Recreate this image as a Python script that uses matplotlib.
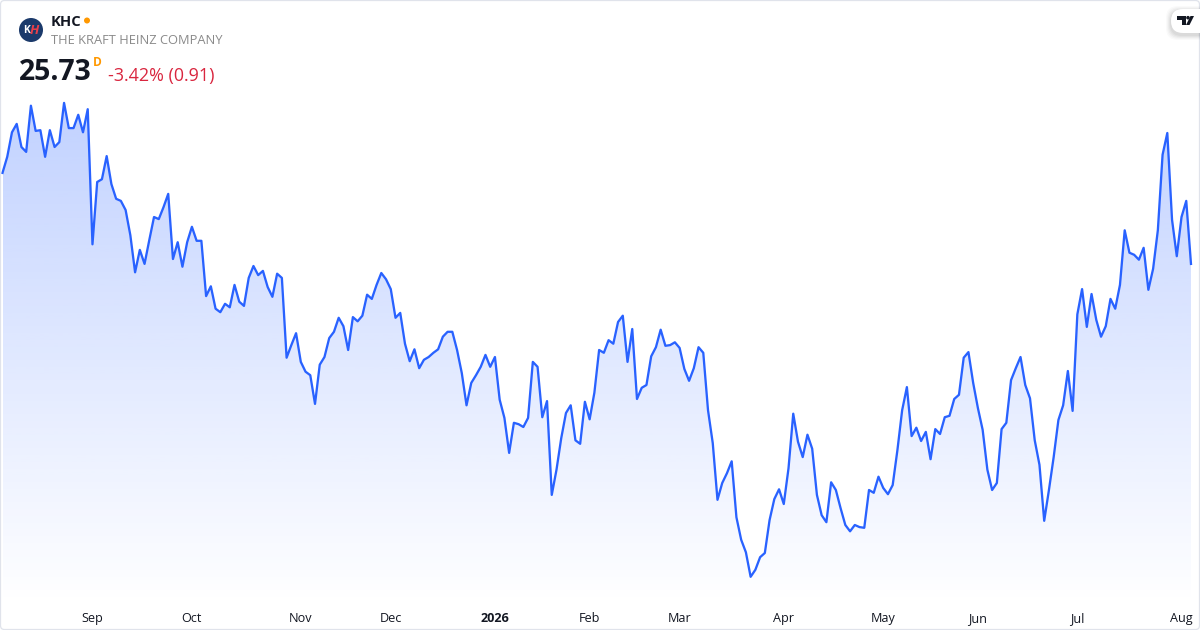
import numpy as np
import matplotlib
matplotlib.use("Agg")
import matplotlib.pyplot as plt
from matplotlib.patches import Circle, FancyBboxPatch, Polygon

prices = [
    27.03, 27.26, 27.61, 27.73, 27.40, 27.33, 27.99, 27.63, 27.64, 27.26,
    27.64, 27.40, 27.47, 28.03, 27.67, 27.67, 27.86, 27.61, 27.94, 26.01,
    26.90, 26.94, 27.27, 26.87, 26.66, 26.63, 26.50, 26.14, 25.61, 25.93,
    25.73, 26.07, 26.40, 26.37, 26.54, 26.73, 25.80, 26.04, 25.69, 26.04,
    26.26, 26.06, 26.06, 25.27, 25.41, 25.09, 25.04, 25.16, 25.11, 25.43,
    25.19, 25.13, 25.53, 25.70, 25.57, 25.63, 25.40, 25.26, 25.59, 25.53,
    24.39, 24.57, 24.74, 24.33, 24.19, 24.14, 23.73, 24.29, 24.40, 24.67,
    24.76, 24.96, 24.84, 24.50, 24.97, 24.91, 24.99, 25.29, 25.23, 25.43,
    25.60, 25.51, 25.37, 24.96, 25.03, 24.59, 24.34, 24.51, 24.24, 24.36,
    24.40, 24.46, 24.51, 24.69, 24.76, 24.76, 24.50, 24.17, 23.71, 24.03,
    24.14, 24.26, 24.43, 24.26, 24.40, 23.79, 23.53, 23.03, 23.46, 23.44,
    23.40, 23.53, 24.33, 24.26, 23.54, 23.77, 22.43, 22.79, 23.24, 23.60,
    23.71, 23.21, 23.16, 23.76, 23.51, 23.89, 24.50, 24.46, 24.64, 24.59,
    24.90, 24.99, 24.33, 24.80, 23.80, 23.96, 24.00, 24.41, 24.54, 24.79,
    24.56, 24.57, 24.61, 24.53, 24.23, 24.06, 24.24, 24.54, 24.46, 23.64,
    23.17, 22.36, 22.60, 22.74, 22.91, 22.11, 21.79, 21.61, 21.26, 21.36,
    21.54, 21.60, 22.07, 22.37, 22.51, 22.30, 22.81, 23.59, 23.19, 22.97,
    23.29, 23.09, 22.43, 22.14, 22.04, 22.61, 22.50, 22.24, 22.00, 21.91,
    22.00, 21.97, 21.96, 22.50, 22.46, 22.69, 22.53, 22.44, 22.57, 23.07,
    23.64, 23.97, 23.27, 23.39, 23.20, 23.33, 22.94, 23.37, 23.30, 23.54,
    23.56, 23.80, 23.86, 24.39, 24.47, 24.03, 23.67, 23.36, 22.79, 22.50,
    22.60, 23.37, 23.46, 24.07, 24.24, 24.40, 24.00, 23.81, 23.21, 22.86,
    22.06, 22.50, 22.97, 23.50, 23.71, 24.20, 23.63, 25.01, 25.37, 24.83,
    25.30, 24.93, 24.69, 24.84, 25.23, 25.09, 25.43, 26.21, 25.89, 25.86,
    25.79, 25.96, 25.36, 25.66, 26.21, 27.29, 27.60, 26.36, 25.84, 26.40,
    26.63, 25.73,
]
tick_positions = [19, 40, 63, 82, 104, 124, 143, 165, 186, 206, 227, 249]
tick_labels = ["Sep", "Oct", "Nov", "Dec", "2026", "Feb", "Mar", "Apr", "May", "Jun", "Jul", "Aug"]

plt.rcParams["font.family"] = ["Open Sans", "DejaVu Sans"]
W, H = 1200, 630
fig = plt.figure(figsize=(W / 100, H / 100), dpi=100, facecolor="white")

BLUE = "#2962FF"
AX_BOTTOM_PX = 605
ax = fig.add_axes([0, (H - AX_BOTTOM_PX) / H, 1, AX_BOTTOM_PX / H])
xs = np.arange(len(prices))
x0, dx = 2.5, 4.735
ymax, ppu = 29.5, 70.0
ymin = ymax - AX_BOTTOM_PX / ppu
for s in ax.spines.values():
    s.set_visible(False)
ax.set_yticks([])
ax.set_xticks(tick_positions)
ax.set_xticklabels(tick_labels, fontsize=9.1, color="#131722")
ax.tick_params(axis="x", length=0, pad=5.0)
for lab in ax.get_xticklabels():
    if lab.get_text() == "2026":
        lab.set_fontweight("bold")

# gradient area
top_p = max(prices)
rgba = np.zeros((256, 1, 4))
rgba[..., 0] = 41 / 255
rgba[..., 1] = 98 / 255
rgba[..., 2] = 1.0
rgba[..., 3] = np.linspace(0.29, 0.0, 256).reshape(-1, 1)
im = ax.imshow(rgba, extent=(xs[0], xs[-1], ymin, top_p), origin="upper",
               aspect="auto", zorder=1, interpolation="bilinear")
verts = [(xs[0], ymin)] + list(zip(xs, prices)) + [(xs[-1], ymin), (xs[0], ymin)]
poly = Polygon(verts, closed=True, transform=ax.transData, facecolor="none", edgecolor="none")
ax.add_patch(poly)
im.set_clip_path(poly)
ax.set_xlim(-x0 / dx, (W - x0) / dx)
ax.set_ylim(ymin, ymax)
ax.plot(xs, prices, color=BLUE, lw=1.65, zorder=2, solid_joinstyle="round")

# chrome in pixel coordinates
ov = fig.add_axes([0, 0, 1, 1], facecolor="none")
ov.set_xlim(0, W)
ov.set_ylim(H, 0)
ov.axis("off")
ov.add_patch(FancyBboxPatch((0.5, 0.5), W - 1, H - 1, boxstyle="round,pad=0,rounding_size=4",
                            fc="none", ec="#E0E3EB", lw=0.9))
ov.add_patch(Circle((31, 30), 12, fc="#1B3A6B", ec="none"))
ov.text(26.5, 30.5, "K", color="white", fontsize=7.5, fontweight="bold", ha="center", va="center")
ov.text(34.5, 30, "H", color="#E8404A", fontsize=9.5, fontstyle="italic", fontweight="bold", ha="center", va="center")
ov.text(51, 21.5, "KHC", color="#131722", fontsize=10.6, fontweight="bold", va="center")
ov.add_patch(Circle((87, 20.5), 3, fc="#FF9800", ec="none"))
ov.text(51, 41, "THE KRAFT HEINZ COMPANY", color="#8A8A8A", fontsize=9.25, va="center")
ov.text(19, 72.5, "25.73", color="#131722", fontsize=20.4, fontweight="bold", va="center")
ov.text(93, 62, "D", color="#FF9800", fontsize=8.6, fontweight="bold", va="center")
ov.text(108, 75.5, "-3.42% (0.91)", color="#D9263F", fontsize=12.9, va="center")

# TradingView badge
for i, a in zip([5, 4, 3, 2, 1], [0.02, 0.025, 0.03, 0.035, 0.04]):
    ov.add_patch(FancyBboxPatch((1171 - i, 9 - i + 2), 60 + 2 * i, 24 + 2 * i,
                                boxstyle="round,pad=0,rounding_size=12", fc="black", alpha=a, ec="none"))
ov.add_patch(FancyBboxPatch((1171, 9), 60, 24, boxstyle="round,pad=0,rounding_size=12", fc="white", ec="none"))
ov.add_patch(Polygon([(1177, 16), (1186, 16), (1186, 25), (1181.5, 25), (1181.5, 20), (1177, 20)], fc="#131722", ec="none"))
ov.add_patch(Circle((1188, 17.7), 1.8, fc="#131722", ec="none"))
ov.add_patch(Polygon([(1190.5, 16), (1194, 16), (1189.5, 25), (1186, 25)], fc="#131722", ec="none"))

fig.savefig("out.png", dpi=100, facecolor="white")
